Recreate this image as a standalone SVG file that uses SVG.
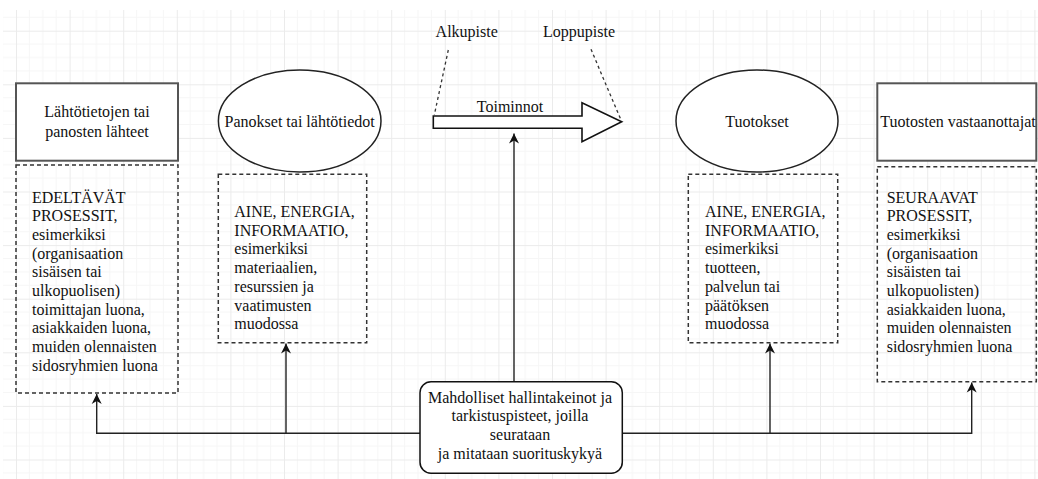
<svg xmlns="http://www.w3.org/2000/svg" width="1038" height="479" viewBox="0 0 1038 479">
  <style>
    text { font-family: "Liberation Serif", "Times New Roman", serif; font-size: 16px; fill: #111; }
    .mid { text-anchor: middle; }
    .solid { fill: #fff; stroke: #555; stroke-width: 2; }
    .oval { fill: #fff; stroke: #222; stroke-width: 1.5; }
    .dash { fill: none; stroke: #333; stroke-width: 1.5; stroke-dasharray: 4 3; }
    .guide { fill: none; stroke: #333; stroke-width: 1.3; stroke-dasharray: 3 3; }
    .wire { fill: none; stroke: #222; stroke-width: 1.4; }
  </style>
  <defs>
    <pattern id="grid" patternUnits="userSpaceOnUse" x="16" y="30.7" width="53.6" height="53.6">
      <path d="M13.4,0 V53.6 M26.8,0 V53.6 M40.2,0 V53.6 M0,13.4 H53.6 M0,26.8 H53.6 M0,40.2 H53.6" stroke="#f6f6f6" stroke-width="1" fill="none"/>
      <path d="M0.5,0 V53.6 M0,0.5 H53.6" stroke="#ebebeb" stroke-width="1" fill="none"/>
    </pattern>
    <marker id="head" markerUnits="userSpaceOnUse" markerWidth="11" markerHeight="11" refX="10" refY="5" orient="auto" viewBox="0 0 11 10">
      <path d="M0,0 L10,5 L0,10 L3,5 Z" fill="#111"/>
    </marker>
  </defs>

  <!-- background grid -->
  <rect x="0" y="0" width="1038" height="479" fill="#fff"/>
  <rect x="3" y="10" width="1035" height="469" fill="url(#grid)"/>

  <!-- connectors -->
  <g id="connectors">
    <path class="wire" d="M420,433.3 H96.7 V394" marker-end="url(#head)"/>
    <path class="wire" d="M286,433.3 V343.5" marker-end="url(#head)"/>
    <path class="wire" d="M622,433.3 H971.7 V382.5" marker-end="url(#head)"/>
    <path class="wire" d="M770,433.3 V343.5" marker-end="url(#head)"/>
    <path class="wire" d="M514,381.7 V133.5" marker-end="url(#head)"/>
    <path class="guide" d="M448.3,50 L434.3,115"/>
    <path class="guide" d="M591,49.3 L621.7,121.7"/>
  </g>

  <!-- sources of inputs -->
  <g id="sources">
    <rect class="solid" x="16" y="83.3" width="162" height="77.4"/>
    <text class="mid" x="97" y="117">Lähtötietojen tai</text>
    <text class="mid" x="97" y="137">panosten lähteet</text>
  </g>
  <g id="sources-detail">
    <rect class="dash" x="16" y="165" width="162" height="228"/>
    <text x="32" y="202.5">EDELTÄVÄT<tspan x="32" dy="18.7">PROSESSIT,</tspan><tspan x="32" dy="18.7">esimerkiksi</tspan><tspan x="32" dy="18.7">(organisaation</tspan><tspan x="32" dy="18.7">sisäisen tai</tspan><tspan x="32" dy="18.7">ulkopuolisen)</tspan><tspan x="32" dy="18.7">toimittajan luona,</tspan><tspan x="32" dy="18.7">asiakkaiden luona,</tspan><tspan x="32" dy="18.7">muiden olennaisten</tspan><tspan x="32" dy="18.7">sidosryhmien luona</tspan></text>
  </g>

  <!-- inputs -->
  <g id="inputs">
    <ellipse class="oval" cx="299.7" cy="121" rx="81.3" ry="51"/>
    <text class="mid" x="299.7" y="127">Panokset tai lähtötiedot</text>
  </g>
  <g id="inputs-detail">
    <rect class="dash" x="218.3" y="174.3" width="148.4" height="168.4"/>
    <text x="234.3" y="217">AINE, ENERGIA,<tspan x="234.3" dy="18.7">INFORMAATIO,</tspan><tspan x="234.3" dy="18.7">esimerkiksi</tspan><tspan x="234.3" dy="18.7">materiaalien,</tspan><tspan x="234.3" dy="18.7">resurssien ja</tspan><tspan x="234.3" dy="18.7">vaatimusten</tspan><tspan x="234.3" dy="18.7">muodossa</tspan></text>
  </g>

  <!-- activities -->
  <g id="activities">
    <path d="M433.3,116 H582 V102.7 L621.7,121.7 L582,141.7 V128.3 H433.3 Z" fill="#fff" stroke="#111" stroke-width="1.6"/>
    <text class="mid" x="510" y="112">Toiminnot</text>
  </g>
  <g id="start-point">
    <text class="mid" x="466.7" y="37">Alkupiste</text>
  </g>
  <g id="end-point">
    <text class="mid" x="579" y="37">Loppupiste</text>
  </g>

  <!-- outputs -->
  <g id="outputs">
    <ellipse class="oval" cx="757" cy="121" rx="81" ry="51"/>
    <text class="mid" x="757" y="127">Tuotokset</text>
  </g>
  <g id="outputs-detail">
    <rect class="dash" x="688.3" y="174.3" width="149.4" height="168.4"/>
    <text x="705" y="217">AINE, ENERGIA,<tspan x="705" dy="18.7">INFORMAATIO,</tspan><tspan x="705" dy="18.7">esimerkiksi</tspan><tspan x="705" dy="18.7">tuotteen,</tspan><tspan x="705" dy="18.7">palvelun tai</tspan><tspan x="705" dy="18.7">päätöksen</tspan><tspan x="705" dy="18.7">muodossa</tspan></text>
  </g>

  <!-- receivers of outputs -->
  <g id="receivers">
    <rect class="solid" x="877.3" y="83.3" width="159" height="77.4"/>
    <text class="mid" x="958" y="126.5">Tuotosten vastaanottajat</text>
  </g>
  <g id="receivers-detail">
    <rect class="dash" x="877.3" y="166.7" width="159" height="215"/>
    <text x="886.7" y="202.5">SEURAAVAT<tspan x="886.7" dy="18.7">PROSESSIT,</tspan><tspan x="886.7" dy="18.7">esimerkiksi</tspan><tspan x="886.7" dy="18.7">(organisaation</tspan><tspan x="886.7" dy="18.7">sisäisten tai</tspan><tspan x="886.7" dy="18.7">ulkopuolisten)</tspan><tspan x="886.7" dy="18.7">asiakkaiden luona,</tspan><tspan x="886.7" dy="18.7">muiden olennaisten</tspan><tspan x="886.7" dy="18.7">sidosryhmien luona</tspan></text>
  </g>

  <!-- control and monitoring -->
  <g id="controls">
    <rect x="420" y="381.7" width="202.3" height="91.6" rx="11" ry="11" fill="#fff" stroke="#111" stroke-width="1.5"/>
    <text class="mid" x="520" y="402.5">Mahdolliset hallintakeinot ja<tspan x="520" dy="18.7">tarkistuspisteet, joilla</tspan><tspan x="520" dy="18.7">seurataan</tspan><tspan x="520" dy="18.7">ja mitataan suorituskykyä</tspan></text>
  </g>
</svg>
